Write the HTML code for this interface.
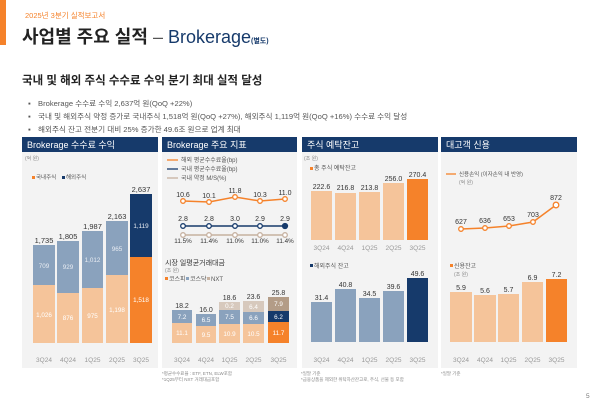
<!DOCTYPE html><html><head><meta charset="utf-8"><style>body{margin:0;background:#fff}svg{display:block}text{font-family:"Liberation Sans","Noto Sans CJK KR",sans-serif}</style></head><body>
<svg width="600" height="404" viewBox="0 0 600 404" xmlns="http://www.w3.org/2000/svg">
<rect x="0" y="0" width="6" height="45" fill="#f5822a"/>
<text x="25" y="18" font-size="7.5" fill="#f5822a">2025년 3분기 실적보고서</text>
<text x="22" y="43" font-size="18" font-weight="bold" fill="#222">사업별 주요 실적 <tspan font-weight="normal" fill="#555">–</tspan> <tspan fill="#163a6b" font-weight="normal">Brokerage</tspan><tspan font-size="7" fill="#163a6b">(별도)</tspan></text>
<text x="22" y="84" font-size="11.5" font-weight="bold" fill="#222">국내 및 해외 주식 수수료 수익 분기 최대 실적 달성</text>
<g font-size="7.6" fill="#555">
<text x="28" y="106">▪</text><text x="38" y="106">Brokerage 수수료 수익 2,637억 원(QoQ +22%)</text>
<text x="28" y="119">▪</text><text x="38" y="119">국내 및 해외주식 약정 증가로 국내주식 1,518억 원(QoQ +27%), 해외주식 1,119억 원(QoQ +16%) 수수료 수익 달성</text>
<text x="28" y="132">▪</text><text x="38" y="132">해외주식 잔고 전분기 대비 25% 증가한 49.6조 원으로 업계 최대</text>
</g>
<!-- panels -->
<g fill="#f3f3f3"><rect x="22" y="137" width="136" height="231"/><rect x="162" y="137" width="135" height="231"/><rect x="302" y="137" width="136" height="231"/><rect x="441" y="137" width="136" height="231"/></g>
<g fill="#163a6b"><rect x="22" y="137" width="136" height="15"/><rect x="162" y="137" width="135" height="15"/><rect x="302" y="137" width="136" height="15"/><rect x="441" y="137" width="136" height="15"/></g>
<g font-size="9" fill="#fff"><text x="27" y="148">Brokerage 수수료 수익</text><text x="167" y="148">Brokerage 주요 지표</text><text x="307" y="148">주식 예탁잔고</text><text x="446" y="148">대고객 신용</text></g>
<!-- panel 1 -->
<text x="25" y="160" font-size="5" fill="#888">(억 원)</text>
<rect x="32" y="176" width="3" height="3" fill="#f5822a"/><text x="36" y="179" font-size="5.5" fill="#555">국내주식</text>
<rect x="62" y="176" width="3" height="3" fill="#163a6b"/><text x="66" y="179" font-size="5.5" fill="#555">해외주식</text>
<g>
<rect x="33" y="285" width="22" height="58" fill="#f5c49a"/><rect x="33" y="245" width="22" height="40" fill="#8aa2bd"/>
<rect x="57" y="293" width="22" height="50" fill="#f5c49a"/><rect x="57" y="241" width="22" height="52" fill="#8aa2bd"/>
<rect x="82" y="288" width="21" height="55" fill="#f5c49a"/><rect x="82" y="231" width="21" height="57" fill="#8aa2bd"/>
<rect x="106" y="275" width="22" height="68" fill="#f5c49a"/><rect x="106" y="221" width="22" height="54" fill="#8aa2bd"/>
<rect x="130" y="257" width="22" height="86" fill="#f5822a"/><rect x="130" y="194" width="22" height="63" fill="#163a6b"/>
</g>
<g font-size="6.3" fill="#e8ecf2" text-anchor="middle"><text x="44" y="268">709</text><text x="68" y="269">929</text><text x="92.5" y="262">1,012</text><text x="117" y="251">965</text><text x="141" y="228">1,119</text>
<text x="44" y="317" fill="#fff">1,026</text><text x="68" y="320" fill="#fff">876</text><text x="92.5" y="318" fill="#fff">975</text><text x="117" y="312" fill="#fff">1,198</text><text x="141" y="302" fill="#fff">1,518</text></g>
<g font-size="7.5" fill="#333" text-anchor="middle"><text x="44" y="243">1,735</text><text x="68" y="239">1,805</text><text x="92.5" y="229">1,987</text><text x="117" y="219">2,163</text><text x="141" y="192">2,637</text></g>
<g font-size="6.5" fill="#999" text-anchor="middle"><text x="44" y="362">3Q24</text><text x="68" y="362">4Q24</text><text x="92.5" y="362">1Q25</text><text x="117" y="362">2Q25</text><text x="141" y="362">3Q25</text></g>
<!-- panel 2 -->
<g font-size="6" fill="#555">
<line x1="167" y1="160" x2="178" y2="160" stroke="#f5822a" stroke-width="1.3"/><text x="181" y="162">해외 평균수수료율(bp)</text>
<line x1="167" y1="169" x2="178" y2="169" stroke="#163a6b" stroke-width="1.3"/><text x="181" y="171">국내 평균수수료율(bp)</text>
<line x1="167" y1="178" x2="178" y2="178" stroke="#c6b1a0" stroke-width="1.3"/><text x="181" y="180">국내 약정 M/S(%)</text>
</g>
<polyline points="183,201 209,202 235,197 260,201 285,199" fill="none" stroke="#f5822a" stroke-width="1.5"/>
<polyline points="183,226 209,226 235,226 260,226 285,226" fill="none" stroke="#163a6b" stroke-width="1.5"/>
<polyline points="183,235 209,235 235,235 260,235 285,235" fill="none" stroke="#c6b1a0" stroke-width="1.5"/>
<g fill="#fff" stroke-width="1.3">
<g stroke="#f5822a"><circle cx="183" cy="201" r="2.3"/><circle cx="209" cy="202" r="2.3"/><circle cx="235" cy="197" r="2.3"/><circle cx="260" cy="201" r="2.3"/><circle cx="285" cy="199" r="2.3"/></g>
<g stroke="#163a6b"><circle cx="183" cy="226" r="2.3"/><circle cx="209" cy="226" r="2.3"/><circle cx="235" cy="226" r="2.3"/><circle cx="260" cy="226" r="2.3"/><circle cx="285" cy="226" r="2.5" fill="#163a6b"/></g>
<g stroke="#c6b1a0"><circle cx="183" cy="235" r="2.3"/><circle cx="209" cy="235" r="2.3"/><circle cx="235" cy="235" r="2.3"/><circle cx="260" cy="235" r="2.3"/><circle cx="285" cy="235" r="2.3"/></g>
</g>
<g font-size="7" fill="#333" text-anchor="middle">
<text x="183" y="197">10.6</text><text x="209" y="198">10.1</text><text x="235" y="193">11.8</text><text x="260" y="197">10.3</text><text x="285" y="195">11.0</text>
<text x="183" y="221">2.8</text><text x="209" y="221">2.8</text><text x="235" y="221">3.0</text><text x="260" y="221">2.9</text><text x="285" y="221">2.9</text>
<text x="183" y="243" font-size="6.3">11.5%</text><text x="209" y="243" font-size="6.3">11.4%</text><text x="235" y="243" font-size="6.3">11.0%</text><text x="260" y="243" font-size="6.3">11.0%</text><text x="285" y="243" font-size="6.3">11.4%</text>
</g>
<text x="165" y="265" font-size="7" fill="#333">시장 일평균거래대금</text>
<text x="165" y="272" font-size="5" fill="#888">(조 원)</text>
<g font-size="6" fill="#555"><rect x="165" y="277" width="3" height="3" fill="#f5822a"/><text x="169" y="281">코스피</text><rect x="186" y="277" width="3" height="3" fill="#8aa2bd"/><text x="190" y="281">코스닥</text><rect x="207" y="277" width="3" height="3" fill="#c6b1a0"/><text x="211" y="281">NXT</text></g>
<g>
<rect x="172" y="323" width="20" height="20" fill="#f5c49a"/><rect x="172" y="310" width="20" height="13" fill="#8aa2bd"/>
<rect x="196" y="326" width="20" height="17" fill="#f5c49a"/><rect x="196" y="314" width="20" height="12" fill="#8aa2bd"/>
<rect x="219" y="324" width="21" height="19" fill="#f5c49a"/><rect x="219" y="310" width="21" height="14" fill="#8aa2bd"/><rect x="219" y="302" width="21" height="8" fill="#d7c9bd"/>
<rect x="243" y="324" width="21" height="19" fill="#f5c49a"/><rect x="243" y="312" width="21" height="12" fill="#8aa2bd"/><rect x="243" y="301" width="21" height="11" fill="#d7c9bd"/>
<rect x="268" y="322" width="21" height="21" fill="#f5822a"/><rect x="268" y="311" width="21" height="11" fill="#163a6b"/><rect x="268" y="297" width="21" height="14" fill="#b39c87"/>
</g>
<g font-size="6.3" fill="#fff" text-anchor="middle"><text x="182" y="335">11.1</text><text x="206" y="337">9.5</text><text x="229.5" y="336">10.9</text><text x="253.5" y="336">10.5</text><text x="278.5" y="335">11.7</text>
<text x="182" y="319">7.2</text><text x="206" y="322">6.5</text><text x="229.5" y="319">7.5</text><text x="253.5" y="320">6.6</text><text x="278.5" y="319">6.2</text>
<text x="229.5" y="308">0.2</text><text x="253.5" y="309">6.4</text><text x="278.5" y="306">7.9</text></g>
<g font-size="7" fill="#333" text-anchor="middle"><text x="182" y="308">18.2</text><text x="206" y="312">16.0</text><text x="229.5" y="300">18.6</text><text x="253.5" y="299">23.6</text><text x="278.5" y="295">25.8</text></g>
<g font-size="6.5" fill="#999" text-anchor="middle"><text x="182" y="362">3Q24</text><text x="206" y="362">4Q24</text><text x="229.5" y="362">1Q25</text><text x="253.5" y="362">2Q25</text><text x="278.5" y="362">3Q25</text></g>
<g font-size="4.5" fill="#888"><text x="162" y="375">*평균수수료율 : ETF, ETN, ELW포함</text><text x="162" y="381">*1Q25부터 NXT 거래대금포함</text></g>
<!-- panel 3 -->
<text x="304" y="160" font-size="5" fill="#888">(조 원)</text>
<rect x="310" y="167" width="3" height="3" fill="#f5822a"/><text x="314" y="170" font-size="6" fill="#555">총 주식 예탁잔고</text>
<rect x="311" y="191" width="21" height="49" fill="#f5c49a"/><rect x="335" y="193" width="21" height="47" fill="#f5c49a"/><rect x="359" y="192" width="21" height="48" fill="#f5c49a"/><rect x="383" y="183" width="21" height="57" fill="#f5c49a"/><rect x="407" y="179" width="21" height="61" fill="#f5822a"/>
<g font-size="7" fill="#333" text-anchor="middle"><text x="321.5" y="189">222.6</text><text x="345.5" y="190">216.8</text><text x="369.5" y="190">213.8</text><text x="393.5" y="181">256.0</text><text x="417.5" y="177">270.4</text></g>
<g font-size="6.5" fill="#999" text-anchor="middle"><text x="321.5" y="250">3Q24</text><text x="345.5" y="250">4Q24</text><text x="369.5" y="250">1Q25</text><text x="393.5" y="250">2Q25</text><text x="417.5" y="250">3Q25</text></g>
<rect x="310" y="264" width="3" height="3" fill="#163a6b"/><text x="314" y="268" font-size="6" fill="#555">해외주식 잔고</text>
<rect x="311" y="302" width="21" height="40" fill="#8aa2bd"/><rect x="335" y="289" width="21" height="53" fill="#8aa2bd"/><rect x="359" y="298" width="21" height="44" fill="#8aa2bd"/><rect x="383" y="291" width="21" height="51" fill="#8aa2bd"/><rect x="407" y="278" width="21" height="64" fill="#163a6b"/>
<g font-size="7" fill="#333" text-anchor="middle"><text x="321.5" y="300">31.4</text><text x="345.5" y="287">40.8</text><text x="369.5" y="296">34.5</text><text x="393.5" y="289">39.6</text><text x="417.5" y="276">49.6</text></g>
<g font-size="6.5" fill="#999" text-anchor="middle"><text x="321.5" y="362">3Q24</text><text x="345.5" y="362">4Q24</text><text x="369.5" y="362">1Q25</text><text x="393.5" y="362">2Q25</text><text x="417.5" y="362">3Q25</text></g>
<g font-size="4.5" fill="#888"><text x="301" y="375">*일말 기준</text><text x="301" y="381">*금융상품을 제외한 위탁자산잔고로, 주식, 선물 등 포함</text></g>
<!-- panel 4 -->
<line x1="446" y1="174" x2="456" y2="174" stroke="#f5822a" stroke-width="1.3"/>
<text x="459" y="176" font-size="5.5" fill="#555">신용손익 (이자손익 내 반영)</text>
<text x="459" y="184" font-size="5" fill="#888">(억 원)</text>
<polyline points="461,229 485,228 509,226 533,222 556,205" fill="none" stroke="#f5822a" stroke-width="1.5"/>
<g fill="#fff" stroke="#f5822a" stroke-width="1.3"><circle cx="461" cy="229" r="2.3"/><circle cx="485" cy="228" r="2.3"/><circle cx="509" cy="226" r="2.3"/><circle cx="533" cy="222" r="2.3"/><circle cx="556" cy="205" r="2.8"/></g>
<g font-size="7" fill="#333" text-anchor="middle"><text x="461" y="224">627</text><text x="485" y="223">636</text><text x="509" y="221">653</text><text x="533" y="217">703</text><text x="556" y="200">872</text></g>
<rect x="450" y="264" width="3" height="3" fill="#f5822a"/><text x="454" y="268" font-size="6" fill="#555">신용잔고</text>
<text x="454" y="276" font-size="5" fill="#888">(조 원)</text>
<rect x="450" y="292" width="22" height="50" fill="#f5c49a"/><rect x="474" y="295" width="22" height="47" fill="#f5c49a"/><rect x="498" y="294" width="21" height="48" fill="#f5c49a"/><rect x="522" y="282" width="21" height="60" fill="#f5c49a"/><rect x="546" y="279" width="21" height="63" fill="#f5822a"/>
<g font-size="7" fill="#333" text-anchor="middle"><text x="461" y="290">5.9</text><text x="485" y="293">5.6</text><text x="508.5" y="292">5.7</text><text x="532.5" y="280">6.9</text><text x="556.5" y="277">7.2</text></g>
<g font-size="6.5" fill="#999" text-anchor="middle"><text x="461" y="362">3Q24</text><text x="485" y="362">4Q24</text><text x="508.5" y="362">1Q25</text><text x="532.5" y="362">2Q25</text><text x="556.5" y="362">3Q25</text></g>
<text x="441" y="375" font-size="4.5" fill="#888">*일말 기준</text>
<text x="586" y="398" font-size="6.5" fill="#777">5</text>
</svg>
</body></html>
